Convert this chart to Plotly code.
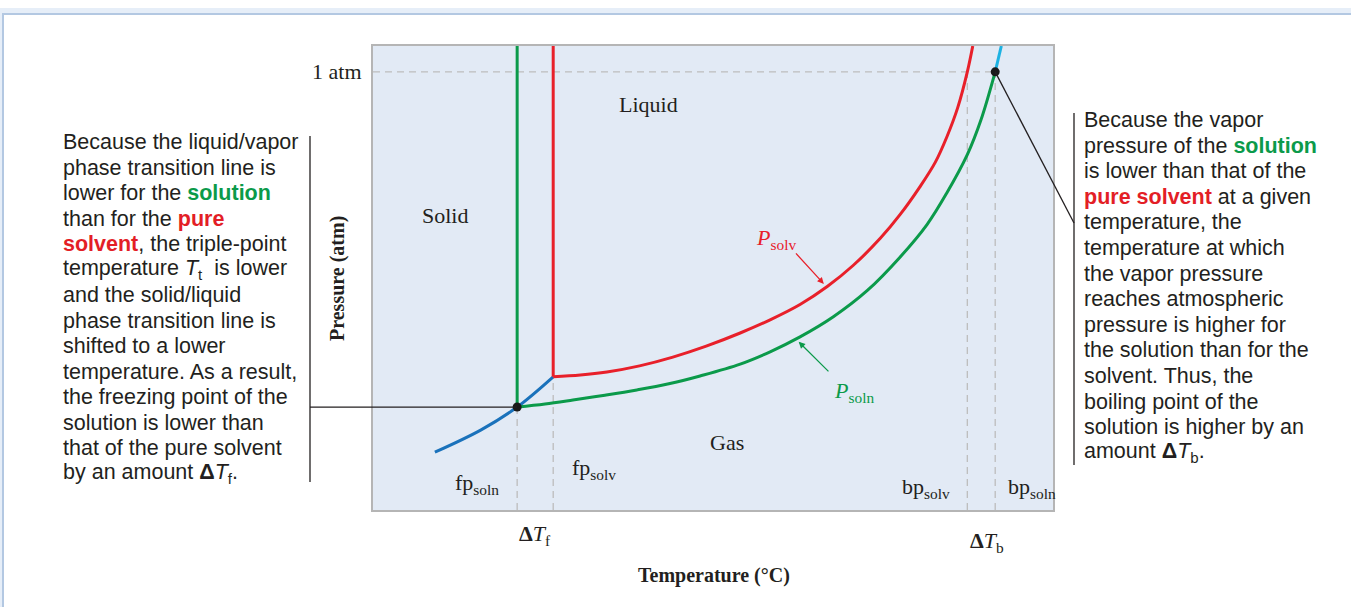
import plotly.graph_objects as go

solv_T = [26.5, 30.5, 34.4, 39.2, 44.1, 49.0, 54.0, 58.4, 62.8, 66.8, 70.6, 74.6, 77.5,
          80.4, 82.7, 84.4, 86.0, 87.4, 88.2]
solv_P = [0.304, 0.308, 0.315, 0.329, 0.349, 0.374, 0.404, 0.434, 0.469, 0.510, 0.558, 0.620,
          0.674, 0.737, 0.794, 0.852, 0.919, 1.0, 1.059]

soln_T = [21.2, 25.3, 29.4, 34.1, 38.8, 43.5, 48.1, 54.0, 58.4, 62.8, 67.7, 72.7, 77.5,
          81.5, 84.4, 87.4, 89.4, 91.5]
soln_P = [0.235, 0.242, 0.251, 0.262, 0.274, 0.288, 0.306, 0.333, 0.361, 0.395, 0.441, 0.501,
          0.577, 0.652, 0.724, 0.811, 0.890, 1.0]

subl_T = [9.1, 15.9, 21.2, 26.5]
subl_P = [0.132, 0.183, 0.235, 0.304]

top_T = [91.5, 92.4]
top_P = [1.0, 1.059]

fp_soln, fp_solv = 21.2, 26.5
bp_solv, bp_soln = 87.4, 91.5
tp_soln_P, tp_solv_P = 0.235, 0.304
P_atm = 1.0
P_max = 1.059

left_lines = [
    "Because the liquid/vapor",
    "phase transition line is",
    "lower for the <b><span style='color:#0b9a4a'>solution</span></b>",
    "than for the <b><span style='color:#e31e26'>pure</span></b>",
    "<b><span style='color:#e31e26'>solvent</span></b>, the triple-point",
    "temperature <i>T</i><sub>t</sub>  is lower",
    "and the solid/liquid",
    "phase transition line is",
    "shifted to a lower",
    "temperature. As a result,",
    "the freezing point of the",
    "solution is lower than",
    "that of the pure solvent",
    "by an amount <b>Δ</b><i>T</i><sub>f</sub>.",
]
right_lines = [
    "Because the vapor",
    "pressure of the <b><span style='color:#0b9a4a'>solution</span></b>",
    "is lower than that of the",
    "<b><span style='color:#e31e26'>pure solvent</span></b> at a given",
    "temperature, the",
    "temperature at which",
    "the vapor pressure",
    "reaches atmospheric",
    "pressure is higher for",
    "the solution than for the",
    "solvent. Thus, the",
    "boiling point of the",
    "solution is higher by an",
    "amount <b>Δ</b><i>T</i><sub>b</sub>.",
]

GREEN = "#0b9a4a"
RED = "#e8202a"
BLUE = "#1a72bb"
CYAN = "#1db2e2"
DASH = "#bdbdbd"
INK = "#231f20"

W, H = 1351, 607
L, R, T, B = 373, 1053, 46, 510


def px(x):  # pixel -> paper x
    return (x - L) / (R - L)


def py(y):  # pixel -> paper y
    return (B - y) / (B - T)


fig = go.Figure()

# linhas tracejadas de referência
dash_style = dict(color=DASH, width=1.3, dash="7px,5px")
fig.add_trace(go.Scatter(x=[0, bp_soln], y=[P_atm, P_atm], mode="lines", line=dash_style))
for t, p in [(fp_soln, tp_soln_P), (fp_solv, tp_solv_P), (bp_solv, P_atm), (bp_soln, P_atm)]:
    fig.add_trace(go.Scatter(x=[t, t], y=[0, p], mode="lines", line=dash_style))

# curvas
fig.add_trace(go.Scatter(x=subl_T, y=subl_P, mode="lines",
                         line=dict(color=BLUE, width=3, shape="spline")))
fig.add_trace(go.Scatter(x=[fp_soln, fp_soln], y=[tp_soln_P, P_max], mode="lines",
                         line=dict(color=GREEN, width=3)))
fig.add_trace(go.Scatter(x=[fp_solv, fp_solv], y=[tp_solv_P, P_max], mode="lines",
                         line=dict(color=RED, width=3)))
fig.add_trace(go.Scatter(x=solv_T, y=solv_P, mode="lines",
                         line=dict(color=RED, width=3, shape="spline", smoothing=1.0)))
fig.add_trace(go.Scatter(x=soln_T, y=soln_P, mode="lines",
                         line=dict(color=GREEN, width=3, shape="spline", smoothing=1.0)))
fig.add_trace(go.Scatter(x=top_T, y=top_P, mode="lines", line=dict(color=CYAN, width=3)))

# pontos pretos
fig.add_trace(go.Scatter(x=[fp_soln, bp_soln], y=[tp_soln_P, P_atm], mode="markers",
                         marker=dict(color="#1a1a1a", size=9), cliponaxis=False))

serif = "Liberation Serif"
sans = "Liberation Sans"
ann = []


def lab(x, y, text, size=22, color=INK, xanchor="center", **kw):
    d = dict(x=x, y=y, xref="paper", yref="paper", text=text, showarrow=False,
             xanchor=xanchor, yanchor="middle",
             font=dict(family=serif, size=size, color=color))
    d.update(kw)
    ann.append(d)


lab(px(648), py(104), "Liquid")
lab(px(445), py(215), "Solid")
lab(px(727), py(442), "Gas")
lab(px(364), py(71), "1 atm", xanchor="right")
lab(px(477), py(484), "fp<sub>soln</sub>")
lab(px(594), py(469), "fp<sub>solv</sub>")
lab(px(926), py(488), "bp<sub>solv</sub>")
lab(px(1032), py(488), "bp<sub>soln</sub>")
lab(px(535), py(535), "<b>Δ</b><i>T</i><sub>f</sub>")
lab(px(987), py(542), "<b>Δ</b><i>T</i><sub>b</sub>")
lab(px(776), py(239), "<i>P</i><sub>solv</sub>", color=RED)
lab(px(854), py(392), "<i>P</i><sub>soln</sub>", color=GREEN)
lab(px(714), py(575), "<b>Temperature (°C)</b>", size=20)
lab(px(337), py(279), "<b>Pressure (atm)</b>", size=20, textangle=-90)

# setas
ann.append(dict(x=66.3, y=0.516, ax=62.0, ay=0.589, xref="x", yref="y", axref="x", ayref="y",
                text="", showarrow=True, arrowhead=2, arrowsize=1, arrowwidth=1.3, arrowcolor=RED))
ann.append(dict(x=62.6, y=0.384, ax=67.2, ay=0.313, xref="x", yref="y", axref="x", ayref="y",
                text="", showarrow=True, arrowhead=2, arrowsize=1, arrowwidth=1.3, arrowcolor=GREEN))

# blocos de texto
for i, line in enumerate(left_lines):
    ann.append(dict(x=px(61), y=py(142 + 25.5 * i), xref="paper", yref="paper", text=line,
                    showarrow=False, xanchor="left", yanchor="middle",
                    font=dict(family=sans, size=21.5, color=INK)))
for i, line in enumerate(right_lines):
    ann.append(dict(x=px(1082), y=py(120 + 25.6 * i), xref="paper", yref="paper", text=line,
                    showarrow=False, xanchor="left", yanchor="middle",
                    font=dict(family=sans, size=21.5, color=INK)))

shapes = [
    # moldura externa
    dict(type="rect", xref="paper", yref="paper", x0=px(1), y0=py(640), x1=px(1400), y1=py(11),
         line=dict(color="#e6eef8", width=6), layer="below"),
    dict(type="rect", xref="paper", yref="paper", x0=px(3), y0=py(640), x1=px(1400), y1=py(14),
         line=dict(color="#b3c8e2", width=2), layer="below"),
    # linhas de chamada
    dict(type="line", xref="paper", yref="paper", x0=px(310), x1=px(310), y0=py(136), y1=py(482),
         line=dict(color=INK, width=1.3)),
    dict(type="line", xref="paper", yref="paper", x0=px(310), x1=fp_soln / 100,
         y0=tp_soln_P / P_max, y1=tp_soln_P / P_max, line=dict(color=INK, width=1.3)),
    dict(type="line", xref="paper", yref="paper", x0=px(1074), x1=px(1074), y0=py(113), y1=py(465),
         line=dict(color=INK, width=1.3)),
    dict(type="line", xref="paper", yref="paper", x0=bp_soln / 100, x1=px(1074),
         y0=P_atm / P_max, y1=py(223), line=dict(color=INK, width=1.3)),
]

fig.update_layout(
    width=W, height=H, autosize=False,
    margin=dict(l=L, r=W - R, t=T, b=H - B),
    paper_bgcolor="white",
    plot_bgcolor="#e2eaf5",
    showlegend=False,
    annotations=ann,
    shapes=shapes,
    xaxis=dict(range=[0, 100], showgrid=False, zeroline=False, showticklabels=False, ticks="",
               showline=True, mirror=True, linecolor="#b5b5b5", linewidth=1.5, fixedrange=True),
    yaxis=dict(range=[0, P_max], showgrid=False, zeroline=False, showticklabels=False, ticks="",
               showline=True, mirror=True, linecolor="#b5b5b5", linewidth=1.5, fixedrange=True),
)

fig.write_html("out.html", config={"displayModeBar": False},
               post_script="document.body.style.margin='0';")
